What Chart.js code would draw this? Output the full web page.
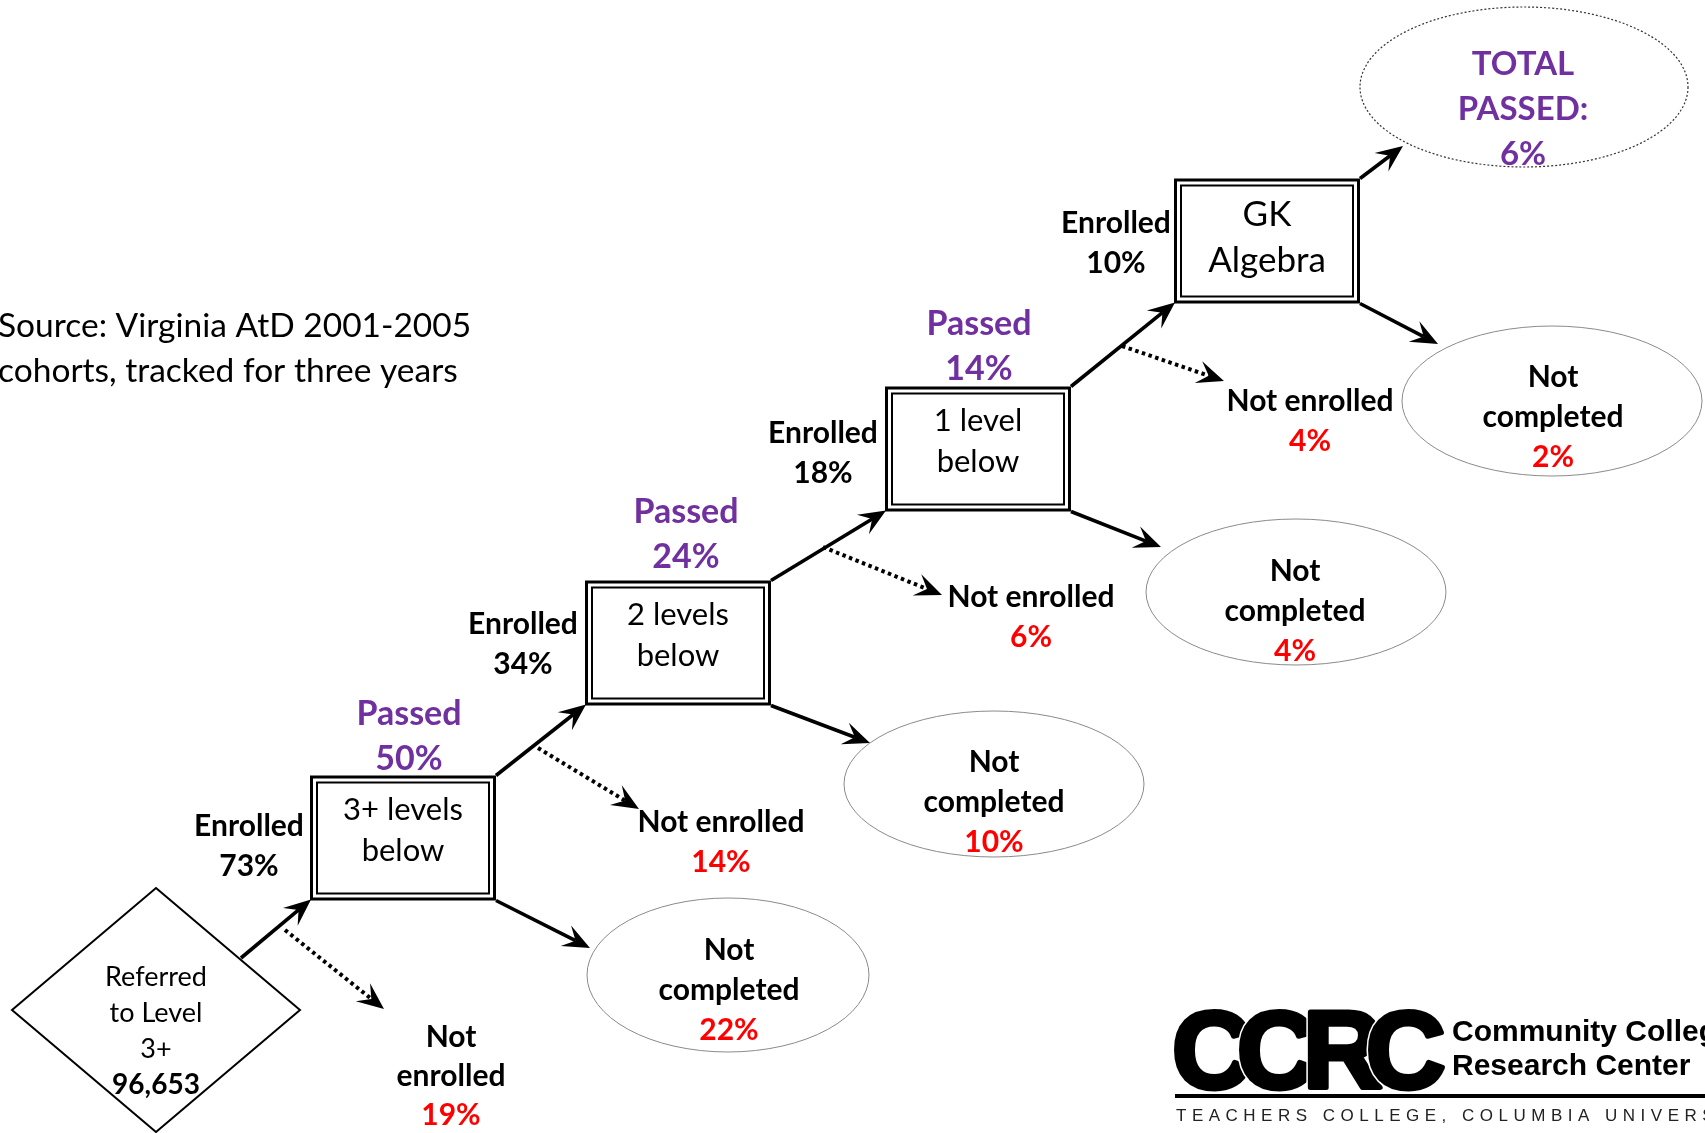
<!DOCTYPE html>
<html>
<head>
<meta charset="utf-8">
<script src="https://cdn.jsdelivr.net/npm/chart.js@4.4.1/dist/chart.umd.min.js"></script>
<style>
  html, body { margin: 0; padding: 0; background: #fff; overflow: hidden; }
  #wrap { width: 1705px; height: 1133px; position: relative; }
</style>
</head>
<body>
<div id="wrap"><canvas id="flow"></canvas></div>
<script>
// ---- data ----
const levelLabels = [['3+ levels', 'below'], ['2 levels', 'below'], ['1 level', 'below'], ['GK', 'Algebra']];
const enrolledPct = [73, 34, 18, 10];
const passedPct = [50, 24, 14];
const notEnrolledPct = [19, 14, 6, 4];
const notCompletedPct = [22, 10, 4, 2];
const totalPassedPct = 6;
const referredCount = 96653;
const referredLabel = ['Referred', 'to Level', '3+'];
const sourceNote = ['Source: Virginia AtD 2001-2005', 'cohorts, tracked for three years'];

// ---- layout (chart units, y grows downward) ----
const boxCenters = [[403, 838], [678, 643], [978, 449], [1267, 241]];
const boxSize = [186, 125];
const boxTextSize = [31, 31, 31, 35];
const diamond = { x: 156, y: 1010, hw: 144, hh: 122 };
const ncEllipses = [[728, 975, 141, 77], [994, 784, 150, 73], [1296, 592, 150, 73], [1552, 401, 150, 75]];
const totalEllipse = [1524, 87, 164, 80];
const enrolledPos = [[249, 826], [523, 624], [823, 433], [1116, 223]];
const passedPos = [[409, 714], [686, 512], [979, 324]];
const notEnrolledPos = [[451, 1037], [721, 822], [1031, 597], [1310, 401]];
const ncTextPos = [[729, 950], [994, 762], [1295, 571], [1553, 377]];
const ncArrowTips = [[590, 948], [870, 743], [1161, 547], [1438, 344]];
const totalArrowTip = [1403, 146];
const dottedStarts = [[285, 930], [538, 748], [823, 547], [1122, 346]];
const dottedTips = [[384, 1009], [639, 809], [942, 595], [1224, 381]];

const PURPLE = '#7030A0';
const RED = '#FF0000';
const FONT = 'Lato, "Open Sans", sans-serif';

function arrow(ctx, x1, y1, x2, y2, dotted) {
    const a = Math.atan2(y2 - y1, x2 - x1);
    const c = Math.cos(a), s = Math.sin(a);
    const len = 27, half = 11.5;
    const nx = x2 - c * len * 0.6, ny = y2 - s * len * 0.6;
    ctx.save();
    ctx.strokeStyle = '#000';
    ctx.fillStyle = '#000';
    ctx.lineWidth = dotted ? 4 : 3.6;
    ctx.lineCap = 'butt';
    ctx.setLineDash(dotted ? [3.5, 3.5] : []);
    ctx.beginPath();
    ctx.moveTo(x1, y1);
    ctx.lineTo(nx, ny);
    ctx.stroke();
    ctx.setLineDash([]);
    ctx.beginPath();
    ctx.moveTo(x2, y2);
    ctx.lineTo(x2 - c * len + s * half, y2 - s * len - c * half);
    ctx.lineTo(nx, ny);
    ctx.lineTo(x2 - c * len - s * half, y2 - s * len + c * half);
    ctx.closePath();
    ctx.fill();
    ctx.restore();
}

function lines(ctx, items, x, y, gap) {
    // items: [text, font, colour]
    items.forEach((it, i) => {
        ctx.font = it[1];
        ctx.fillStyle = it[2];
        ctx.fillText(it[0], x, y + i * gap);
    });
}

const flowPlugin = {
    id: 'flow',
    afterDatasetsDraw(chart) {
        const ctx = chart.ctx;
        const sx = chart.scales.x, sy = chart.scales.y;
        const X = v => sx.getPixelForValue(v);
        const Y = v => sy.getPixelForValue(v);
        const W = v => X(v) - X(0);
        const H = v => Y(v) - Y(0);

        const boxes = chart.getDatasetMeta(0).data;
        const ells = chart.getDatasetMeta(1).data;
        const dia = chart.getDatasetMeta(2).data[0];
        const tot = chart.getDatasetMeta(3).data[0];

        ctx.save();
        ctx.textAlign = 'center';
        ctx.textBaseline = 'middle';

        // source note
        ctx.textAlign = 'left';
        lines(ctx, sourceNote.map(t => [t, '33.5px ' + FONT, '#000']), X(-2), Y(326), H(45));
        ctx.textAlign = 'center';

        // diamond
        const dw = W(diamond.hw), dh = H(diamond.hh);
        ctx.beginPath();
        ctx.moveTo(dia.x, dia.y - dh);
        ctx.lineTo(dia.x + dw, dia.y);
        ctx.lineTo(dia.x, dia.y + dh);
        ctx.lineTo(dia.x - dw, dia.y);
        ctx.closePath();
        ctx.lineWidth = 2;
        ctx.strokeStyle = '#000';
        ctx.stroke();
        const dItems = referredLabel.map(t => [t, '27px ' + FONT, '#000']);
        dItems.push([referredCount.toLocaleString('en-US'), 'bold 28px ' + FONT, '#000']);
        lines(ctx, dItems, dia.x, Y(977), H(36));

        // boxes with double border
        const bw = W(boxSize[0]), bh = H(boxSize[1]);
        boxes.forEach((p, i) => {
            const l = p.x - bw / 2, t = p.y - bh / 2;
            ctx.strokeStyle = '#000';
            ctx.lineWidth = 3;
            ctx.strokeRect(l + 1.5, t + 1.5, bw - 3, bh - 3);
            ctx.lineWidth = 2;
            ctx.strokeRect(l + 7, t + 7, bw - 14, bh - 14);
            const big = boxTextSize[i] > 31;
            lines(ctx, levelLabels[i].map(s => [s, boxTextSize[i] + 'px ' + FONT, '#000']),
                p.x, p.y - (big ? 26 : 28), big ? 46 : 41);
        });

        // not completed ellipses
        ells.forEach((p, i) => {
            ctx.beginPath();
            ctx.ellipse(p.x, p.y, W(ncEllipses[i][2]), H(ncEllipses[i][3]), 0, 0, Math.PI * 2);
            ctx.lineWidth = 1;
            ctx.strokeStyle = '#8a8a8a';
            ctx.stroke();
            lines(ctx, [
                ['Not', 'bold 30px ' + FONT, '#000'],
                ['completed', 'bold 30px ' + FONT, '#000'],
                [notCompletedPct[i] + '%', 'bold 30px ' + FONT, RED]
            ], X(ncTextPos[i][0]), Y(ncTextPos[i][1]), H(40));
        });

        // total passed ellipse (dotted)
        ctx.beginPath();
        ctx.ellipse(tot.x, tot.y, W(totalEllipse[2]), H(totalEllipse[3]), 0, 0, Math.PI * 2);
        ctx.setLineDash([2, 2]);
        ctx.lineWidth = 1.2;
        ctx.strokeStyle = '#333';
        ctx.stroke();
        ctx.setLineDash([]);
        lines(ctx, [
            ['TOTAL', 'bold 33px ' + FONT, PURPLE],
            ['PASSED:', 'bold 33px ' + FONT, PURPLE],
            [totalPassedPct + '%', 'bold 33px ' + FONT, PURPLE]
        ], X(1523), Y(64), H(45));

        // solid arrows: enrolled chain
        const corner = (i, dx, dy) => [boxes[i].x + dx * bw / 2, boxes[i].y + dy * bh / 2];
        let bl = corner(0, -1, 1);
        arrow(ctx, X(241), Y(958), bl[0] + 1, bl[1] - 1, false);
        for (let i = 0; i < 3; i++) {
            const a = corner(i, 1, -1), b = corner(i + 1, -1, 1);
            arrow(ctx, a[0], a[1], b[0] + 1, b[1] - 1, false);
        }
        // to not completed
        ncArrowTips.forEach((tip, i) => {
            const a = corner(i, 1, 1);
            arrow(ctx, a[0], a[1], X(tip[0]), Y(tip[1]), false);
        });
        const tr = corner(3, 1, -1);
        arrow(ctx, tr[0], tr[1], X(totalArrowTip[0]), Y(totalArrowTip[1]), false);
        // dotted: not enrolled
        dottedStarts.forEach((s, i) => {
            arrow(ctx, X(s[0]), Y(s[1]), X(dottedTips[i][0]), Y(dottedTips[i][1]), true);
        });

        // enrolled labels
        enrolledPos.forEach((p, i) => {
            lines(ctx, [
                ['Enrolled', 'bold 30px ' + FONT, '#000'],
                [enrolledPct[i] + '%', 'bold 30px ' + FONT, '#000']
            ], X(p[0]), Y(p[1]), H(40));
        });
        // passed labels
        passedPos.forEach((p, i) => {
            lines(ctx, [
                ['Passed', 'bold 34px ' + FONT, PURPLE],
                [passedPct[i] + '%', 'bold 34px ' + FONT, PURPLE]
            ], X(p[0]), Y(p[1]), H(45));
        });
        // not enrolled labels
        notEnrolledPos.forEach((p, i) => {
            const items = i === 0
                ? [['Not', 'bold 30px ' + FONT, '#000'], ['enrolled', 'bold 30px ' + FONT, '#000']]
                : [['Not enrolled', 'bold 30px ' + FONT, '#000']];
            items.push([notEnrolledPct[i] + '%', 'bold 30px ' + FONT, RED]);
            lines(ctx, items, X(p[0]), Y(p[1]), H(i === 0 ? 39 : 40));
        });

        // CCRC logo
        ctx.textAlign = 'left';
        ctx.textBaseline = 'alphabetic';
        ctx.font = 'bold 110px "Liberation Sans", Arial, sans-serif';
        ctx.lineJoin = 'round';
        const letters = ['C', 'C', 'R', 'C'];
        const lx = [1172, 1237, 1303, 1366];
        letters.forEach((ch, i) => {
            if (i > 0) {
                ctx.strokeStyle = '#fff';
                ctx.lineWidth = 8;
                ctx.strokeText(ch, X(lx[i]), Y(1088));
            }
            ctx.fillStyle = '#000';
            ctx.strokeStyle = '#000';
            ctx.lineWidth = 5;
            ctx.fillText(ch, X(lx[i]), Y(1088));
            ctx.strokeText(ch, X(lx[i]), Y(1088));
        });
        ctx.fillStyle = '#000';
        ctx.font = 'bold 30px "Liberation Sans", Arial, sans-serif';
        ctx.fillText('Community College', X(1452), Y(1041));
        ctx.fillText('Research Center', X(1452), Y(1075));
        ctx.fillRect(X(1175), Y(1094), W(540), H(4));
        ctx.font = '17px "Liberation Sans", Arial, sans-serif';
        ctx.letterSpacing = '5.5px';
        ctx.fillStyle = '#222';
        ctx.fillText('TEACHERS COLLEGE, COLUMBIA UNIVERSITY', X(1176), Y(1121));
        ctx.letterSpacing = '0px';

        ctx.restore();
    }
};

const pt = a => ({ x: a[0], y: a[1] });

new Chart(document.getElementById('flow'), {
    type: 'scatter',
    data: {
        datasets: [
            { label: 'levels', data: boxCenters.map(pt), pointRadius: 0 },
            { label: 'not completed', data: ncEllipses.map(pt), pointRadius: 0 },
            { label: 'referred', data: [{ x: diamond.x, y: diamond.y }], pointRadius: 0 },
            { label: 'total passed', data: [pt(totalEllipse)], pointRadius: 0 }
        ]
    },
    options: {
        responsive: true,
        maintainAspectRatio: false,
        animation: false,
        layout: { padding: 0 },
        events: [],
        scales: {
            x: { type: 'linear', min: 0, max: 1705, display: false },
            y: { type: 'linear', min: 0, max: 1133, reverse: true, display: false }
        },
        plugins: { legend: { display: false }, tooltip: { enabled: false } }
    },
    plugins: [flowPlugin]
});
</script>
</body>
</html>
